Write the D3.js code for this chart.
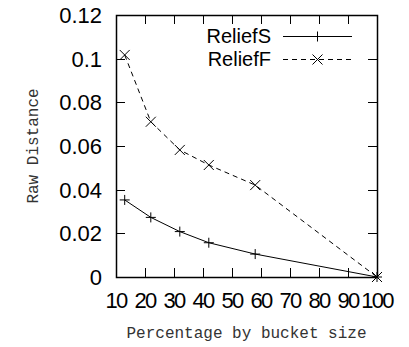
<!DOCTYPE html>
<html>
<head>
<meta charset="utf-8">
<script src="https://cdn.jsdelivr.net/npm/d3@7"></script>
<style>
  html, body { margin: 0; padding: 0; background: #fff; }
  svg { display: block; }
</style>
</head>
<body>
<div id="chart"></div>
<script>
'use strict';

// ─── Data ────────────────────────────────────────────────────────────────────
const bucketPct   = [13, 22, 32, 42, 58, 100];
const reliefS     = [0.0353, 0.0273, 0.0208, 0.0157, 0.0105, 0];
const reliefF     = [0.1017, 0.0711, 0.0582, 0.0513, 0.0421, 0];
const xTicks      = [10, 20, 30, 40, 50, 60, 70, 80, 90, 100];
const yTicks      = [0, 0.02, 0.04, 0.06, 0.08, 0.1, 0.12];
const seriesNames = ['ReliefS', 'ReliefF'];

// ─── Layout ──────────────────────────────────────────────────────────────────
const W = 409, H = 347;
const plot = { left: 116, right: 377, top: 15, bottom: 277 };
const TICK = 9;

const svg = d3.select('#chart').append('svg')
  .attr('width', W).attr('height', H);

const x = d3.scaleLinear().domain([10, 100]).range([plot.left, plot.right]);
const y = d3.scaleLinear().domain([0, 0.12]).range([plot.bottom, plot.top]);

const numFont = "'Liberation Sans', Arial, sans-serif";
const monoFont = "'Liberation Mono', 'Courier New', monospace";

// mirrored inward ticks, gnuplot style
const ticks = svg.append('g').attr('stroke', '#000').attr('stroke-width', 1);
xTicks.forEach(t => {
  const px = Math.round(x(t)) + 0.5;
  ticks.append('line').attr('x1', px).attr('x2', px)
    .attr('y1', plot.bottom).attr('y2', plot.bottom - TICK);
  ticks.append('line').attr('x1', px).attr('x2', px)
    .attr('y1', plot.top).attr('y2', plot.top + TICK);
});
yTicks.forEach(t => {
  const py = Math.round(y(t)) + 0.5;
  ticks.append('line').attr('x1', plot.left).attr('x2', plot.left + TICK)
    .attr('y1', py).attr('y2', py);
  ticks.append('line').attr('x1', plot.right).attr('x2', plot.right - TICK)
    .attr('y1', py).attr('y2', py);
});

// tick labels
svg.append('g').selectAll('text').data(xTicks).join('text')
  .attr('x', d => x(d)).attr('y', plot.bottom + 31)
  .attr('text-anchor', 'middle')
  .attr('font-family', numFont).attr('font-size', 22)
  .attr('letter-spacing', -1.8)
  .text(d => d);

svg.append('g').selectAll('text').data(yTicks).join('text')
  .attr('x', plot.left - 14).attr('y', d => y(d))
  .attr('dy', '0.36em')
  .attr('text-anchor', 'end')
  .attr('font-family', numFont).attr('font-size', 22)
  .text(d => d3.format('')(d));

// axis titles
svg.append('text')
  .attr('x', (plot.left + plot.right) / 2).attr('y', 338)
  .attr('text-anchor', 'middle')
  .attr('font-family', monoFont).attr('font-size', 16)
  .attr('fill', '#333')
  .text('Percentage by bucket size');

svg.append('text')
  .attr('transform', `translate(38,${(plot.top + plot.bottom) / 2}) rotate(-90)`)
  .attr('text-anchor', 'middle')
  .attr('font-family', monoFont).attr('font-size', 16)
  .attr('fill', '#333')
  .text('Raw Distance');

// ─── Series ──────────────────────────────────────────────────────────────────
const line = d3.line().x(d => x(d[0])).y(d => y(d[1]));

function plusMark(g, cx, cy, r) {
  g.append('path')
    .attr('d', `M${cx - r},${cy}H${cx + r}M${cx},${cy - r}V${cy + r}`)
    .attr('stroke', '#000').attr('stroke-width', 1).attr('fill', 'none');
}
function crossMark(g, cx, cy, r) {
  g.append('path')
    .attr('d', `M${cx - r},${cy - r}L${cx + r},${cy + r}M${cx - r},${cy + r}L${cx + r},${cy - r}`)
    .attr('stroke', '#000').attr('stroke-width', 1).attr('fill', 'none');
}

const series = [
  { name: seriesNames[0], values: reliefS, dash: null, mark: plusMark, r: 5 },
  { name: seriesNames[1], values: reliefF, dash: '5,4', mark: crossMark, r: 5 },
];

series.forEach((s, i) => {
  const pts = bucketPct.map((b, j) => [b, s.values[j]]);
  const g = svg.append('g');
  g.append('path')
    .attr('d', line(pts))
    .attr('fill', 'none').attr('stroke', '#000').attr('stroke-width', 1)
    .attr('stroke-dasharray', s.dash);
  pts.forEach(p => s.mark(g, x(p[0]), y(p[1]), s.r));

  // legend entry
  const ly = 36 + i * 23;
  svg.append('text')
    .attr('x', 271).attr('y', ly).attr('dy', '0.36em')
    .attr('text-anchor', 'end')
    .attr('font-family', numFont).attr('font-size', 20)
    .text(s.name);
  svg.append('line')
    .attr('x1', 283).attr('x2', 352).attr('y1', ly + 0.5).attr('y2', ly + 0.5)
    .attr('stroke', '#000').attr('stroke-width', 1)
    .attr('stroke-dasharray', s.dash);
  s.mark(svg, 317.5, ly + 0.5, s.r);
});

// frame
svg.append('rect')
  .attr('x', plot.left + 0.5).attr('y', plot.top + 0.5)
  .attr('width', plot.right - plot.left).attr('height', plot.bottom - plot.top)
  .attr('fill', 'none').attr('stroke', '#000').attr('stroke-width', 1.5);
</script>
</body>
</html>
